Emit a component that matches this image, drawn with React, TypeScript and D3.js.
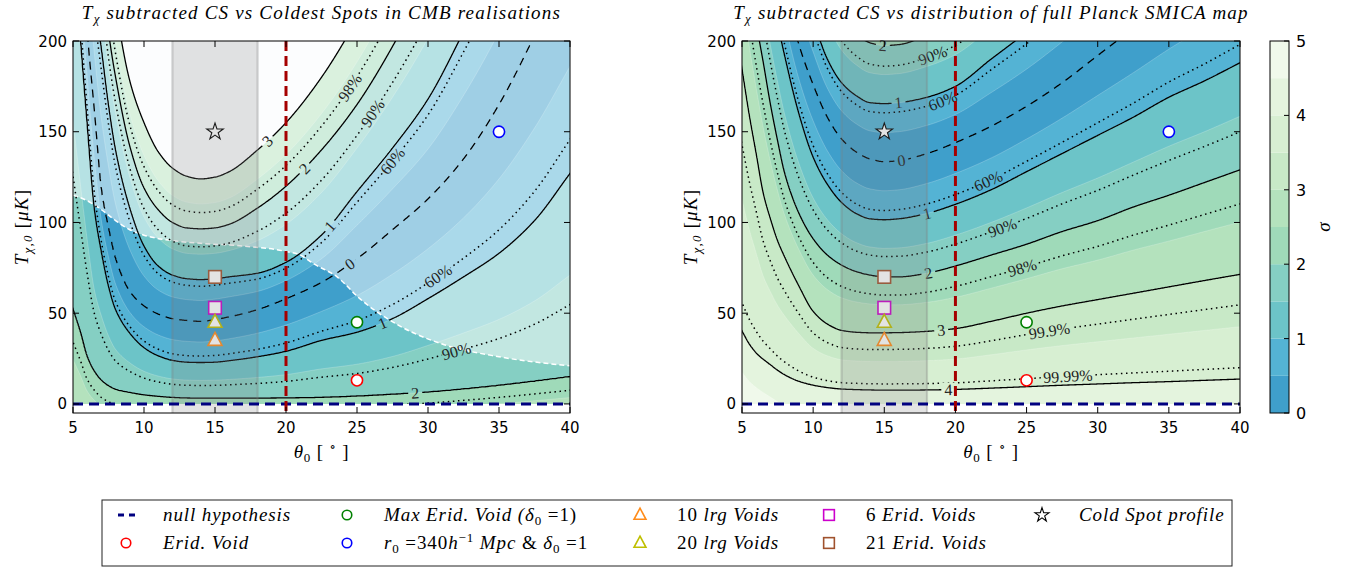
import React, { useMemo } from "react";
import * as d3 from "d3";

// ---------------- data ----------------
const thetaKnots = [5, 5.5, 6, 6.5, 7, 7.5, 8, 9, 10, 11, 12, 13, 14, 15, 16, 18, 20, 22.5, 25, 27.5, 30, 32.5, 35, 37.5, 40];

// Left panel: T_chi,0 where the significance reaches each signed level (negative = below the valley)
const leftLevels = [-3, -2, -1, 0, 1, 2, 3, 4];
const leftMinus3 = [-3, -8, -12, -14, -16, -17, -18, -19, -19, -19, -19, -19, -19, -18.5, -18, -17, -16, -15, -14, -13, -12, -11, -10, -9, -8];
const leftMinus2 = [52, 40, 26, 18, 13, 10, 8, 6.3, 5, 4.2, 3.6, 3.3, 3.2, 3.2, 3.2, 3.2, 3.3, 3.6, 4.3, 5.3, 6.5, 8.2, 10.2, 12.5, 15];
const leftMinus1 = [260, 205, 155, 108, 84, 65, 52, 39, 31, 26.5, 24, 23, 22.8, 23, 23.8, 26, 29, 35, 39.5, 47, 58, 70, 83, 101, 127];
const leftZero = [330, 260, 205, 162, 118, 97, 80, 62, 54, 49.5, 47, 46, 45.5, 46.5, 48, 52, 58, 67, 80, 96, 113, 135, 165, 203, 245];
const leftPlus1 = [380, 320, 265, 225, 196, 165, 140, 108, 87, 76, 71, 69, 68.5, 69, 70, 72, 78, 93, 117, 141, 168, 205, 245, 290, 340];
const leftPlus2 = [440, 380, 320, 275, 240, 205, 180, 142, 119, 107, 100, 97, 96.5, 97, 99, 108, 120, 140, 165, 197, 235, 275, 320, 365, 410];
const leftPlus3 = [500, 440, 380, 330, 290, 250, 220, 178, 155, 139, 130, 125.5, 124, 125, 128, 140, 155, 180, 212, 250, 290, 335, 380, 425, 470];
const leftPlus4 = [560, 500, 440, 385, 340, 295, 260, 214, 191, 171, 160, 154, 151.5, 153, 157, 172, 190, 220, 259, 303, 345, 395, 440, 485, 530];

// Left panel: edge of the region covered by the CMB realisations (white dashed curve)
const leftEdgeTheta = [5, 6, 7, 8, 9, 10, 12, 14, 17, 20, 21, 22, 23.6, 25.2, 28, 31, 35, 40];
const leftEdgeT = [115, 112, 107, 101, 96, 93, 90, 88.5, 87, 84, 82, 77, 70, 58, 43, 33, 26, 21];

// Right panel
const rightLevels = [-5, -4, -3, -2, -1, 0, 1, 2, 3];
const rightMinus5 = [-5, -8, -10, -12, -14, -16, -18, -20, -21, -22, -23, -24, -24, -24, -24, -25, -26, -28, -30, -34, -38, -40, -42, -43, -44];
const rightMinus4 = [40, 33, 28, 24.5, 21.5, 18.5, 16, 12.4, 10.3, 9, 8.2, 7.9, 7.7, 7.6, 7.6, 7.7, 8, 8.7, 9.5, 10.3, 11, 11.7, 12.3, 13, 13.7];
const rightMinus3 = [185, 160, 138, 116, 102, 90, 81, 65, 51, 44, 40.5, 39.5, 39.2, 39.2, 39.3, 40, 41.5, 45.5, 50, 54, 57.5, 61, 64.5, 68, 71.4];
const rightMinus2 = [260, 235, 210, 188, 165, 145, 127, 105, 91, 82, 76.5, 73, 71, 70, 70, 72, 76, 82, 88, 95, 101, 108.5, 115, 122, 129];
const rightMinus1 = [330, 300, 275, 250, 230, 210, 192, 160, 136, 121, 111, 105, 102, 101.5, 102, 105, 110, 118, 128, 138, 148, 158, 169, 178, 188];
const rightZero = [400, 370, 340, 310, 280, 252, 230, 198, 176, 158, 146, 139, 135, 133.5, 134, 138, 144, 153, 164, 177, 192, 207, 222, 237, 252];
const rightPlus1 = [460, 430, 400, 370, 340, 310, 285, 240, 212, 190, 177, 170, 166, 165.5, 166, 169, 175, 190, 205, 222, 240, 258, 276, 295, 315];
const rightPlus2 = [520, 490, 460, 430, 400, 370, 340, 290, 255, 230, 213, 204, 199, 197.5, 198, 203, 210, 225, 245, 265, 285, 305, 325, 345, 365];
const rightPlus3 = [580, 550, 520, 490, 460, 430, 395, 340, 298, 270, 249, 238, 232, 229.5, 230, 237, 245, 260, 285, 308, 330, 352, 374, 395, 415];

// confidence contours (dotted)
const confidenceSigmas = [0.8416, 1.645, 2.326, 3.291, 3.891];
const confidenceNames = ["60%", "90%", "98%", "99.9%", "99.99%"];
const integerSigmas = [1, 2, 3, 4];
const bandEdges = [0, 0.5, 1, 1.5, 2, 2.5, 3, 3.5, 4, 4.5, 5];

// inline contour labels: signed level + theta position
const leftLabelLevel = [3, 2, 2.326, 1.645, 1, 0.8416, 0, -1, -0.8416, -1.645, -2];
const leftLabelTheta = [18.7, 21.3, 24.5, 26.1, 23.1, 27.5, 24.5, 26.8, 30.7, 32, 29.1];
const rightLabelLevel = [2, 1.645, 1, 0.8416, 0, -0.8416, -1, -1.645, -2, -2.326, -3, -3.291, -4, -3.891];
const rightLabelTheta = [14.9, 18.4, 16, 19.1, 16.2, 22.3, 18, 23.3, 18.1, 24.7, 19, 26.6, 19.5, 27.9];

// profiles
const markerKeys = ["star", "blue", "green", "red", "brown", "magenta", "olive", "orange"];
const markerTheta = [15, 35, 25, 25, 15, 15, 15, 15];
const markerT = [150, 150, 45, 13, 70, 53, 45, 35];

const xTicks = [5, 10, 15, 20, 25, 30, 35, 40];
const yTicks = [0, 50, 100, 150, 200];
const cbTicks = [0, 1, 2, 3, 4, 5];

const nullHypothesisT = 0;
const planckTheta = 20;
const bandLo = 12;
const bandHi = 18;

// ---------------- styles ----------------
const W = 1352;
const H = 567;
const bandColors = ["#3f9fcb", "#54b3d4", "#6cc4c8", "#85cfc3", "#9fdab9", "#b4e2bd", "#c8e9c7", "#d7efd2", "#e4f4de", "#f0f9eb"];
const markerStyle: Record<string, { shape: string; color: string }> = {
  star: { shape: "star", color: "#000" },
  blue: { shape: "circle", color: "#0000ff" },
  green: { shape: "circle", color: "#008000" },
  red: { shape: "circle", color: "#ff0000" },
  brown: { shape: "square", color: "#a0522d" },
  magenta: { shape: "square", color: "#cc00cc" },
  olive: { shape: "triangle", color: "#bfbf00" },
  orange: { shape: "triangle", color: "#ff8c1a" },
};
const MATH = "'Liberation Serif', 'DejaVu Serif', serif";
const SANS = "'DejaVu Sans', sans-serif";

const yScale = d3.scaleLinear().domain([-5, 200]).range([413, 41]);
const xLeft = d3.scaleLinear().domain([5, 40]).range([73, 570]);
const xRight = d3.scaleLinear().domain([5, 40]).range([742, 1240]);
const cbScale = d3.scaleLinear().domain([0, 5]).range([413, 41]);

// ---------------- helpers ----------------
function monotone(xs: number[], ys: number[]) {
  const n = xs.length;
  const d: number[] = [];
  const m: number[] = new Array(n);
  for (let i = 0; i < n - 1; i++) d[i] = (ys[i + 1] - ys[i]) / (xs[i + 1] - xs[i]);
  m[0] = d[0];
  m[n - 1] = d[n - 2];
  for (let i = 1; i < n - 1; i++) {
    if (d[i - 1] * d[i] <= 0) m[i] = 0;
    else {
      const h0 = xs[i] - xs[i - 1];
      const h1 = xs[i + 1] - xs[i];
      const w1 = 2 * h1 + h0;
      const w2 = h1 + 2 * h0;
      m[i] = (w1 + w2) / (w1 / d[i - 1] + w2 / d[i]);
    }
  }
  return (x: number) => {
    if (x <= xs[0]) return ys[0] + m[0] * (x - xs[0]);
    if (x >= xs[n - 1]) return ys[n - 1] + m[n - 1] * (x - xs[n - 1]);
    const i = Math.min(n - 2, d3.bisectRight(xs, x) - 1);
    const h = xs[i + 1] - xs[i];
    const t = (x - xs[i]) / h;
    const t2 = t * t;
    const t3 = t2 * t;
    return (2 * t3 - 3 * t2 + 1) * ys[i] + (t3 - 2 * t2 + t) * h * m[i] + (-2 * t3 + 3 * t2) * ys[i + 1] + (t3 - t2) * h * m[i + 1];
  };
}

type Model = { levels: number[]; fns: ((x: number) => number)[] };

function makeModel(levels: number[], curves: number[][]): Model {
  return { levels, fns: curves.map((c) => monotone(thetaKnots, c)) };
}

function levelT(model: Model, s: number, th: number) {
  const L = model.levels;
  let k = 0;
  while (k < L.length - 2 && s > L[k + 1]) k++;
  const a = model.fns[k](th);
  const b = model.fns[k + 1](th);
  return a + ((s - L[k]) / (L[k + 1] - L[k])) * (b - a);
}

const GRID = { th0: 4.6, dth: 0.07, nx: 514, t0: -3, dT: 0.5, ny: 416 };

function buildField(model: Model) {
  const { th0, dth, nx, t0, dT, ny } = GRID;
  const signed = new Float64Array(nx * ny);
  const abs = new Float64Array(nx * ny);
  const L = model.levels;
  const nL = L.length;
  const Ts = new Array(nL);
  for (let i = 0; i < nx; i++) {
    const th = th0 + i * dth;
    for (let k = 0; k < nL; k++) Ts[k] = model.fns[k](th);
    for (let j = 0; j < ny; j++) {
      const T = t0 + j * dT;
      let s: number;
      if (T <= Ts[0]) s = L[0] + ((T - Ts[0]) * (L[1] - L[0])) / (Ts[1] - Ts[0]);
      else if (T >= Ts[nL - 1]) s = L[nL - 1] + ((T - Ts[nL - 1]) * (L[nL - 1] - L[nL - 2])) / (Ts[nL - 1] - Ts[nL - 2]);
      else {
        let k = 0;
        while (k < nL - 2 && T > Ts[k + 1]) k++;
        s = L[k] + ((T - Ts[k]) / (Ts[k + 1] - Ts[k])) * (L[k + 1] - L[k]);
      }
      signed[j * nx + i] = s;
      abs[j * nx + i] = Math.abs(s);
    }
  }
  return { signed, abs };
}

function labelText(s: number) {
  const a = Math.abs(s);
  if (Math.abs(a - Math.round(a)) < 1e-6) return String(Math.round(a));
  const i = confidenceSigmas.findIndex((c) => Math.abs(c - a) < 1e-3);
  return confidenceNames[i];
}

function MarkerShape({ shape, color, x, y, s = 1 }: { shape: string; color: string; x: number; y: number; s?: number }) {
  if (shape === "circle")
    return <circle cx={x} cy={y} r={5.6 * s} fill="#fff" stroke={color} strokeWidth={1.6} />;
  if (shape === "square")
    return <rect x={x - 6.3 * s} y={y - 6.3 * s} width={12.6 * s} height={12.6 * s} fill="#fff" stroke={color} strokeWidth={1.6} />;
  if (shape === "triangle")
    return (
      <path
        d={`M${x},${y - 8 * s} L${x + 7 * s},${y + 5 * s} L${x - 7 * s},${y + 5 * s} Z`}
        fill="#fff"
        stroke={color}
        strokeWidth={1.6}
        strokeLinejoin="miter"
      />
    );
  const star = d3.symbol(d3.symbolStar, 85 * s * s)();
  return <path d={star || ""} transform={`translate(${x},${y})`} fill="#fff" stroke={color} strokeWidth={1.1} />;
}

type PanelProps = {
  id: string;
  x: d3.ScaleLinear<number, number>;
  model: Model;
  labelLevels: number[];
  labelThetas: number[];
  maxLine: number;
  edge?: { th: number[]; T: number[] };
};

function Panel({ id, x, model, labelLevels, labelThetas, maxLine, edge }: PanelProps) {
  const geo = useMemo(() => {
    const { signed, abs } = buildField(model);
    const gen = d3.contours().size([GRID.nx, GRID.ny]);
    const fills = gen.thresholds(bandEdges)(abs as any);
    const lines = integerSigmas.filter((t) => t <= maxLine).map((t) => gen.contour(abs as any, t));
    const dots = confidenceSigmas.filter((t) => t <= maxLine).map((t) => gen.contour(abs as any, t));
    const zero = gen.contour(signed as any, 0);
    return { fills, lines, dots, zero };
  }, [model, maxLine]);

  const proj = d3.geoTransform({
    point: function (gx: number, gy: number) {
      (this as any).stream.point(x(GRID.th0 + (gx - 0.5) * GRID.dth), yScale(GRID.t0 + (gy - 0.5) * GRID.dT));
    },
  });
  const path = d3.geoPath(proj as any);

  const x0 = x(5);
  const x1 = x(40);
  const yTop = yScale(200);
  const yZero = yScale(0);
  const yBot = yScale(-5);

  const labels = labelLevels.map((s, i) => {
    const th = labelThetas[i];
    const px = x(th);
    const py = yScale(levelT(model, s, th));
    const ax = x(th - 0.3);
    const ay = yScale(levelT(model, s, th - 0.3));
    const bx = x(th + 0.3);
    const by = yScale(levelT(model, s, th + 0.3));
    let ang = (Math.atan2(by - ay, bx - ax) * 180) / Math.PI;
    if (ang > 90) ang -= 180;
    if (ang < -90) ang += 180;
    const text = labelText(s);
    const w = text.length * 8 + 6;
    return { px, py, ang, text, w };
  });

  let upperPath = "";
  let edgeLine = "";
  if (edge) {
    const line = d3
      .line<number>()
      .x((_, i) => x(edge.th[i]))
      .y((_, i) => yScale(edge.T[i]))
      .curve(d3.curveMonotoneX);
    edgeLine = line(edge.th) || "";
    upperPath = `${edgeLine} L${x(40)},${yScale(210)} L${x(5)},${yScale(210)} Z`;
  }

  return (
    <g>
      <defs>
        <clipPath id={`${id}-data`}>
          <rect x={x0} y={yTop} width={x1 - x0} height={yZero - yTop} />
        </clipPath>
        <clipPath id={`${id}-axes`}>
          <rect x={x0} y={yTop} width={x1 - x0} height={yBot - yTop} />
        </clipPath>
        {edge && (
          <clipPath id={`${id}-upper`}>
            <path d={upperPath} />
          </clipPath>
        )}
        <mask id={`${id}-mask`} maskUnits="userSpaceOnUse" x={0} y={0} width={W} height={H}>
          <rect x={0} y={0} width={W} height={H} fill="#fff" />
          {labels.map((l, i) => (
            <rect key={i} x={-l.w / 2} y={-7} width={l.w} height={14} fill="#000" transform={`translate(${l.px},${l.py}) rotate(${l.ang})`} />
          ))}
        </mask>
      </defs>

      <g clipPath={`url(#${id}-data)`}>
        {geo.fills.map((g, i) => (
          <path
            key={i}
            d={path(g as any) || ""}
            fill={i < bandColors.length ? bandColors[i] : "#ffffff"}
            fillRule="evenodd"
            stroke="rgba(255,255,255,0.35)"
            strokeWidth={0.6}
          />
        ))}
        {edge && (
          <g clipPath={`url(#${id}-upper)`}>
            <path d={path(geo.fills[6] as any) || ""} fill="#f9fbfd" fillRule="evenodd" />
            <rect x={x0} y={yTop} width={x1 - x0} height={yZero - yTop} fill="#fff" opacity={0.5} />
          </g>
        )}
        {edge && <path d={edgeLine} fill="none" stroke="#fff" strokeWidth={1.5} strokeDasharray="5,3" />}
        <g mask={`url(#${id}-mask)`} fill="none" stroke="#000">
          {geo.lines.map((g, i) => (
            <path key={`l${i}`} d={path(g as any) || ""} strokeWidth={1.3} />
          ))}
          {geo.dots.map((g, i) => (
            <path key={`d${i}`} d={path(g as any) || ""} strokeWidth={1.5} strokeDasharray="1.5,3.6" />
          ))}
          <path d={path(geo.zero as any) || ""} strokeWidth={1.3} strokeDasharray="8,6" />
        </g>
      </g>

      {labels.map((l, i) => (
        <text
          key={i}
          transform={`translate(${l.px},${l.py}) rotate(${l.ang})`}
          textAnchor="middle"
          dominantBaseline="central"
          fontFamily={MATH}
          fontSize={16}
          fill="#222"
        >
          {l.text}
        </text>
      ))}

      {markerKeys.map((k, i) => (
        <MarkerShape key={k} shape={markerStyle[k].shape} color={markerStyle[k].color} x={x(markerTheta[i])} y={yScale(markerT[i])} />
      ))}

      <g clipPath={`url(#${id}-axes)`}>
        <rect x={x(bandLo)} y={yTop} width={x(bandHi) - x(bandLo)} height={yBot - yTop} fill="rgba(128,128,128,0.22)" />
        <line x1={x(bandLo)} x2={x(bandLo)} y1={yTop} y2={yBot} stroke="rgba(128,128,128,0.32)" strokeWidth={2.2} />
        <line x1={x(bandHi)} x2={x(bandHi)} y1={yTop} y2={yBot} stroke="rgba(128,128,128,0.32)" strokeWidth={2.2} />
        <line x1={x0} x2={x1} y1={yScale(nullHypothesisT)} y2={yScale(nullHypothesisT)} stroke="#000080" strokeWidth={3} strokeDasharray="10,6" />
        <line x1={x(planckTheta)} x2={x(planckTheta)} y1={yTop} y2={yBot} stroke="#a50000" strokeWidth={3} strokeDasharray="10,5" />
      </g>

      {/* frame & ticks */}
      <rect x={x0} y={yTop} width={x1 - x0} height={yBot - yTop} fill="none" stroke="#000" strokeWidth={1} />
      {xTicks.map((t) => (
        <g key={`xt${t}`}>
          <line x1={x(t)} x2={x(t)} y1={yBot} y2={yBot - 6} stroke="#000" />
          <line x1={x(t)} x2={x(t)} y1={yTop} y2={yTop + 6} stroke="#000" />
          <text x={x(t)} y={433} textAnchor="middle" fontFamily={SANS} fontSize={15}>
            {t}
          </text>
        </g>
      ))}
      {yTicks.map((t) => (
        <g key={`yt${t}`}>
          <line x1={x0} x2={x0 + 6} y1={yScale(t)} y2={yScale(t)} stroke="#000" />
          <line x1={x1} x2={x1 - 6} y1={yScale(t)} y2={yScale(t)} stroke="#000" />
          <text x={x0 - 6} y={yScale(t) + 5.5} textAnchor="end" fontFamily={SANS} fontSize={15}>
            {t}
          </text>
        </g>
      ))}
      <text x={(x0 + x1) / 2} y={458} textAnchor="middle" fontFamily={MATH} fontSize={19} letterSpacing={0.8}>
        <tspan fontStyle="italic">θ</tspan>
        <tspan fontSize={13} dy={4}>0</tspan>
        <tspan dy={-4}> [ </tspan>
        <tspan fontSize={13} dy={-7}>∘</tspan>
        <tspan dy={7}> ]</tspan>
      </text>
      <text transform={`translate(${x0 - 45},${(yTop + yBot) / 2}) rotate(-90)`} textAnchor="middle" fontFamily={MATH} fontSize={19} letterSpacing={1.2}>
        <tspan fontStyle="italic">T</tspan>
        <tspan fontSize={13} dy={4} fontStyle="italic">χ,0</tspan>
        <tspan dy={-4}> [</tspan>
        <tspan fontStyle="italic">μK</tspan>
        <tspan>]</tspan>
      </text>
    </g>
  );
}

function LegendEntry({ x, y, kind, children }: { x: number; y: number; kind: string; children: React.ReactNode }) {
  return (
    <g>
      {kind === "null" ? (
        <g>
          <line x1={x - 8} x2={x - 2} y1={y} y2={y} stroke="#000080" strokeWidth={3} />
          <line x1={x + 3} x2={x + 9} y1={y} y2={y} stroke="#000080" strokeWidth={3} />
        </g>
      ) : (
        <MarkerShape shape={markerStyle[kind].shape} color={markerStyle[kind].color} x={x} y={y} s={0.85} />
      )}
      <text x={x + 37} y={y + 6} fontFamily={MATH} fontSize={19} letterSpacing={0.9}>
        {children}
      </text>
    </g>
  );
}

export default function App() {
  const leftModel = useMemo(
    () => makeModel(leftLevels, [leftMinus3, leftMinus2, leftMinus1, leftZero, leftPlus1, leftPlus2, leftPlus3, leftPlus4]),
    []
  );
  const rightModel = useMemo(
    () =>
      makeModel(rightLevels, [rightMinus5, rightMinus4, rightMinus3, rightMinus2, rightMinus1, rightZero, rightPlus1, rightPlus2, rightPlus3]),
    []
  );

  const r1 = 515;
  const r2 = 543;
  return (
    <svg width={W} height={H} style={{ position: "absolute", left: 0, top: 0, background: "#fff" }}>
      <rect x={0} y={0} width={W} height={H} fill="#fff" />
      <text x={321.5} y={19} textAnchor="middle" fontFamily={MATH} fontSize={19} fontStyle="italic" letterSpacing={1.2}>
        <tspan>T</tspan>
        <tspan fontSize={13} dy={4}>χ</tspan>
        <tspan dy={-4}> subtracted CS vs Coldest Spots in CMB realisations</tspan>
      </text>
      <text x={991} y={19} textAnchor="middle" fontFamily={MATH} fontSize={19} fontStyle="italic" letterSpacing={1.2}>
        <tspan>T</tspan>
        <tspan fontSize={13} dy={4}>χ</tspan>
        <tspan dy={-4}> subtracted CS vs distribution of full Planck SMICA map</tspan>
      </text>

      <Panel id="left" x={xLeft} model={leftModel} labelLevels={leftLabelLevel} labelThetas={leftLabelTheta} maxLine={3} edge={{ th: leftEdgeTheta, T: leftEdgeT }} />
      <Panel id="right" x={xRight} model={rightModel} labelLevels={rightLabelLevel} labelThetas={rightLabelTheta} maxLine={5} />

      {/* colorbar */}
      <g>
        {bandColors.map((c, i) => (
          <rect key={i} x={1270} y={cbScale(bandEdges[i + 1])} width={19} height={cbScale(bandEdges[i]) - cbScale(bandEdges[i + 1])} fill={c} />
        ))}
        <rect x={1270} y={cbScale(5)} width={19} height={cbScale(0) - cbScale(5)} fill="none" stroke="#000" />
        {cbTicks.map((t) => (
          <g key={t}>
            <line x1={1289} x2={1284} y1={cbScale(t)} y2={cbScale(t)} stroke="#000" />
            <text x={1296} y={cbScale(t) + 6} fontFamily={SANS} fontSize={16}>
              {t}
            </text>
          </g>
        ))}
        <text transform={`translate(1330,${(cbScale(0) + cbScale(5)) / 2}) rotate(-90)`} textAnchor="middle" fontFamily={MATH} fontSize={19} fontStyle="italic">
          σ
        </text>
      </g>

      {/* legend */}
      <rect x={102} y={500} width={1130} height={66} fill="#fff" stroke="#222" strokeWidth={1} />
      <LegendEntry x={126} y={r1} kind="null">
        <tspan fontStyle="italic">null hypothesis</tspan>
      </LegendEntry>
      <LegendEntry x={126} y={r2} kind="red">
        <tspan fontStyle="italic">Erid. Void</tspan>
      </LegendEntry>
      <LegendEntry x={347} y={r1} kind="green">
        <tspan fontStyle="italic">Max Erid. Void (δ</tspan>
        <tspan fontSize={13} dy={4}>0</tspan>
        <tspan dy={-4}> =1)</tspan>
      </LegendEntry>
      <LegendEntry x={347} y={r2} kind="blue">
        <tspan fontStyle="italic">r</tspan>
        <tspan fontSize={13} dy={4}>0</tspan>
        <tspan dy={-4}> =340</tspan>
        <tspan fontStyle="italic">h</tspan>
        <tspan fontSize={13} dy={-7}>−1</tspan>
        <tspan dy={7} fontStyle="italic"> Mpc</tspan>
        <tspan> &amp; </tspan>
        <tspan fontStyle="italic">δ</tspan>
        <tspan fontSize={13} dy={4}>0</tspan>
        <tspan dy={-4}> =1</tspan>
      </LegendEntry>
      <LegendEntry x={640} y={r1} kind="orange">
        <tspan>10 </tspan>
        <tspan fontStyle="italic">lrg Voids</tspan>
      </LegendEntry>
      <LegendEntry x={640} y={r2} kind="olive">
        <tspan>20 </tspan>
        <tspan fontStyle="italic">lrg Voids</tspan>
      </LegendEntry>
      <LegendEntry x={829} y={r1} kind="magenta">
        <tspan>6 </tspan>
        <tspan fontStyle="italic">Erid. Voids</tspan>
      </LegendEntry>
      <LegendEntry x={829} y={r2} kind="brown">
        <tspan>21 </tspan>
        <tspan fontStyle="italic">Erid. Voids</tspan>
      </LegendEntry>
      <LegendEntry x={1042} y={r1} kind="star">
        <tspan fontStyle="italic">Cold Spot profile</tspan>
      </LegendEntry>
    </svg>
  );
}
